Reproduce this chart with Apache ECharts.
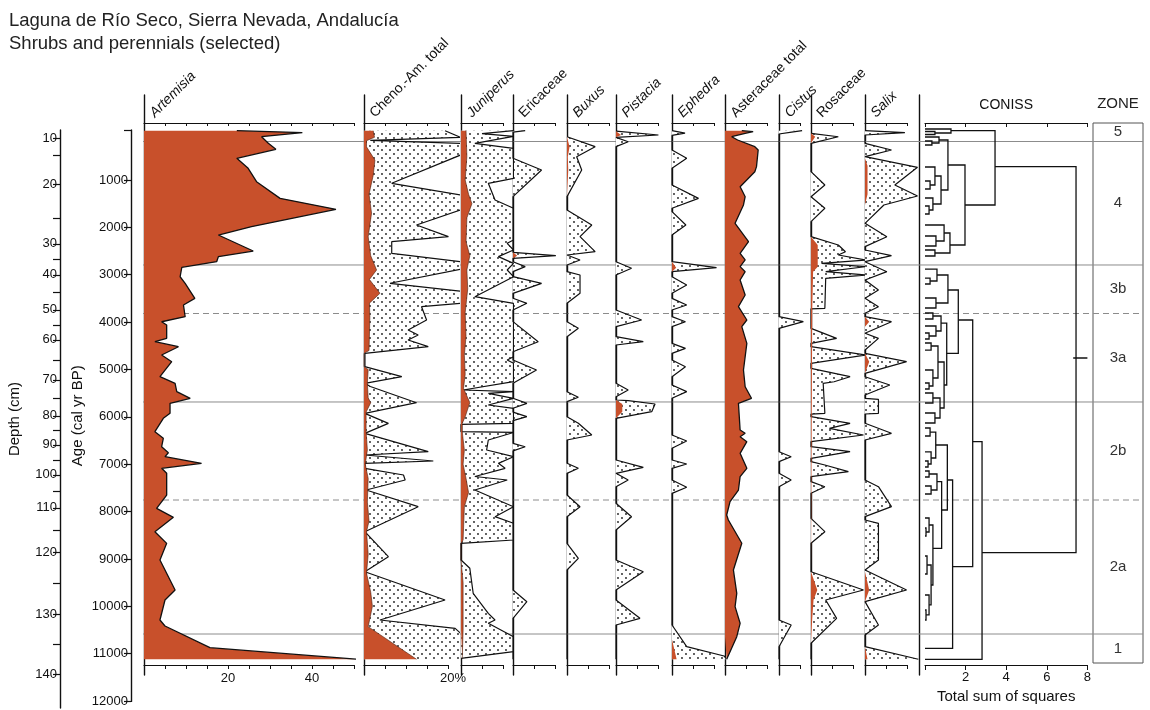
<!DOCTYPE html>
<html>
<head>
<meta charset="utf-8">
<title>Laguna de Río Seco – shrubs and perennials</title>
<script src="https://cdn.jsdelivr.net/npm/echarts@6/dist/echarts.min.js"></script>
<style>
  html, body { margin: 0; background: #fff; }
  #chart { width: 1150px; height: 710px; }
</style>
</head>
<body>
<div id="chart"></div>
<script>
// all profiles are [age cal yr BP, percent]
const artemisia = [[-40, 22.1], [0, 37.7], [87, 28.0], [226, 29.6], [353, 31.4], [543, 22.1], [754, 24.8], [1036, 26.8], [1388, 32.4], [1620, 45.7], [1987, 25.6], [2162, 17.7], [2500, 26.0], [2620, 17.7], [2725, 17.3], [2845, 9.0], [3043, 8.6], [3183, 9.8], [3499, 12.1], [3640, 9.4], [3887, 9.8], [3993, 4.2], [4062, 5.4], [4343, 5.4], [4414, 2.6], [4520, 8.2], [4695, 4.2], [4836, 6.6], [5153, 3.8], [5293, 7.4], [5469, 7.8], [5609, 11.0], [5715, 6.2], [5926, 6.2], [6031, 4.6], [6314, 2.6], [6454, 4.6], [6630, 4.2], [6758, 5.8], [6842, 5.0], [6982, 13.7], [7087, 4.2], [7193, 5.4], [7651, 5.4], [7932, 3.0], [8122, 7.0], [8426, 2.6], [8671, 5.4], [9023, 3.8], [9656, 7.4], [9867, 5.0], [10289, 3.8], [10416, 5.0], [10874, 15.7], [11119, 51]]

const chenoAm = [[-40, 2.2], [100, 2.5], [171, 0.6], [300, 0.6], [580, 2.6], [900, 2.2], [1300, 1.2], [1700, 1.8], [2200, 1.0], [2600, 1.6], [2900, 3.0], [3100, 1.3], [3393, 3.8], [3600, 1.3], [3900, 1.4], [4600, 1.2], [4660, 0], [4942, 0], [5000, 1.0], [5293, 0.8], [5600, 1.0], [5702, 1.6], [5900, 0.5], [6300, 0.5], [6700, 0.8], [7000, 0.3], [7300, 1.0], [7800, 0.8], [8200, 1.2], [8425, 0.6], [8900, 1.0], [9300, 0.6], [9700, 1.6], [10000, 2.0], [10430, 1.0], [11118, 12.5]]
const chenoAmExag = [[-40, 19.3], [100, 23], [165, 1.5], [230, 23], [473, 23], [1070, 6.6], [1317, 23], [1634, 23], [1950, 12.5], [2197, 20.1], [2303, 6.6], [2548, 6.6], [2725, 23], [2884, 23], [3181, 6.2], [3349, 23], [3603, 23], [3675, 13.7], [3956, 14.9], [4167, 10.5], [4273, 12.9], [4378, 10.5], [4519, 15.3], [4660, 0.2], [4942, 0.2], [5153, 9.0], [5293, 0.2], [5360, 1.5], [5702, 12.5], [5927, 0.2], [6138, 5.8], [6349, 0.2], [6736, 15.3], [6806, 0.2], [6933, 16.5], [6981, 0.2], [7087, 0.2], [7228, 9.4], [7334, 9.8], [7545, 0.5], [7897, 12.9], [8425, 0.2], [8953, 5.8], [9270, 0.2], [9867, 19.3], [10289, 3.8], [10465, 21.7], [10571, 23], [11118, 23]]

const juniperus = [[-40, 1.2], [500, 1.4], [1000, 1.0], [1300, 1.8], [1500, 2.6], [1800, 1.4], [2300, 1.2], [2600, 2.1], [2900, 1.4], [3300, 1.6], [3800, 1.0], [4300, 1.2], [4700, 0.8], [5100, 1.0], [5400, 0.6], [5700, 2.1], [6000, 1.0], [6137, 0.3], [6314, 0.3], [6700, 0.8], [7000, 0.5], [7300, 1.2], [7600, 1.8], [7900, 0.8], [8600, 0.5], [8670, 0], [9022, 0], [9500, 0.5], [10500, 0.5], [11098, 0.3]]
const juniperusExag = [[-40, 12.5], [20, 5], [80, 12.5], [226, 3.3], [332, 12.5], [965, 12.5], [1071, 6.5], [1423, 8.1], [1598, 12.5], [2267, 12.5], [2337, 11], [2478, 12.5], [2619, 8.9], [2760, 12.5], [2901, 11], [3042, 12.5], [3464, 3.3], [3604, 12.5], [4731, 12.5], [4801, 11], [4871, 12.5], [5258, 12.5], [5434, 0.5], [5470, 12.5], [5504, 6.5], [5609, 12.5], [5750, 6.5], [5820, 12.5], [6137, 12.5], [6160, 0], [6314, 0], [6330, 12.5], [6489, 6.5], [6700, 6.1], [6842, 12.5], [6982, 8.9], [7087, 10.5], [7260, 3.3], [7334, 11], [7545, 3.3], [7897, 12.5], [8108, 8.1], [8248, 12.5], [8600, 12.5], [8670, 0], [9022, 0], [9198, 2.1], [9725, 2.9], [10148, 6.5], [10289, 8.1], [10359, 6.5], [10642, 12.5], [10958, 12.5], [11098, 0]]

const ericaceae = [[-40, 0], [2527, 0], [2598, 1.0], [2654, 0], [11118, 0]]
const ericaceaeExag = [[-40, 2.9], [-10, 0], [542, 0], [789, 6.8], [1352, 0], [2527, 0], [2598, 10.2], [2654, 0], [2725, 0], [2830, 2.9], [2936, 0], [3042, 0], [3183, 6.8], [3393, 0], [3498, 0], [3604, 3.3], [3745, 0], [3991, 0], [4414, 6.0], [4625, 0], [4801, 0], [5012, 5.6], [5293, 0], [5609, 0], [5715, 3.3], [5820, 0], [5900, 0], [5997, 3.3], [6080, 0], [6560, 0], [6631, 2.9], [6720, 0], [9656, 0], [9903, 3.3], [10254, 0], [11118, 0]]

const buxus = [[87, 0], [297, 0.6], [508, 0.2], [789, 0.3], [1352, 0]]
const buxusExag = [[87, 0], [297, 6.7], [508, 2.3], [789, 3.5], [1352, 0], [1634, 0], [1950, 5.9], [2197, 3.1], [2514, 6.7], [2584, 0], [2689, 3.1], [2795, 0], [2936, 0], [3006, 3.1], [3393, 3.1], [3604, 0], [3991, 0], [4131, 2.7], [4308, 0], [5469, 0], [5588, 2.7], [5680, 0], [5997, 0], [6137, 2.7], [6384, 5.9], [6489, 0], [6981, 0], [7087, 2.7], [7193, 0], [7651, 0], [7897, 3.1], [8108, 0], [8670, 0], [8987, 2.7], [9233, 0], [11118, 0]]

const pistacia = [[-30, 0], [51, 1.2], [100, 0], [5645, 0], [5729, 1.5], [5892, 1.5], [6031, 0]]
const pistaciaExag = [[-30, 0], [51, 10.1], [100, 0], [121, 0], [192, 2.9], [297, 0], [2725, 0], [2865, 3.7], [3006, 0], [3745, 0], [3956, 6.1], [4097, 0], [4308, 0], [4414, 6.5], [4484, 0], [5293, 0], [5434, 2.9], [5575, 0], [5645, 0], [5660, 2.9], [5729, 9.3], [5892, 8.5], [6031, 0], [6911, 0], [7066, 6.5], [7193, 0], [7228, 0], [7334, 2.9], [7475, 0], [7826, 0], [8108, 3.7], [8389, 0], [9022, 0], [9270, 6.5], [9656, 0], [9867, 0], [10254, 5.7], [10395, 0], [11118, 0]]

const ephedra = [[2725, 0], [2852, 1.0], [2936, 0], [10700, 0], [11118, 1.1]]
const ephedraExag = [[-40, 0], [10, 3.1], [60, 0], [367, 0], [543, 3.5], [754, 0], [1106, 0], [1388, 6.3], [1598, 0], [1669, 0], [1950, 3.3], [2162, 0], [2725, 0], [2852, 10.6], [2936, 0], [3042, 0], [3218, 3.5], [3393, 0], [3499, 0], [3640, 3.5], [3745, 0], [3886, 0], [3992, 3.2], [4097, 0], [4449, 0], [4554, 3.2], [4660, 0], [4801, 0], [4942, 3.2], [5153, 0], [5328, 0], [5469, 3.5], [5609, 0], [6384, 0], [6511, 3.5], [6665, 0], [6911, 0], [6996, 3.5], [7087, 0], [7334, 0], [7488, 3.5], [7615, 0], [10395, 0], [10853, 3.5], [11049, 12.4], [11118, 13]]

const asteraceae = [[-40, 4.0], [-19, 6.7], [16, 4.8], [87, 1.6], [156, 3.0], [297, 7.1], [367, 7.9], [719, 7.5], [825, 7.1], [1142, 3.6], [1212, 4.0], [1353, 4.8], [1528, 4.4], [1915, 2.4], [2303, 5.6], [2548, 3.6], [2689, 4.8], [2830, 3.6], [2936, 4.8], [3112, 3.6], [3429, 4.8], [3675, 3.2], [3956, 5.2], [4097, 4.0], [4449, 5.2], [4731, 4.8], [5012, 4.4], [5364, 4.8], [5609, 6.3], [5715, 3.2], [6278, 3.6], [6348, 4.8], [6420, 3.6], [6525, 5.2], [6771, 3.6], [7087, 5.2], [7264, 3.6], [7545, 3.2], [7791, 1.2], [8073, 0.4], [8178, 0.8], [8670, 4.0], [9233, 2.0], [9726, 2.8], [10008, 2.4], [10359, 3.6], [10641, 2.8], [11118, 0.4]]

const cistusExag = [[-40, 5.5], [-10, 3.0], [30, 0], [3886, 0], [3991, 5.8], [4132, 0], [6736, 0], [6842, 2.9], [6947, 0], [7193, 0], [7334, 2.9], [7475, 0], [10289, 0], [10395, 2.9], [10853, 0], [11118, 0]]

const rosaceae = [[16, 0], [87, 1.0], [226, 0], [2197, 0], [2373, 1.6], [2830, 1.6], [2936, 0.5], [3710, 0.3], [3720, 0], [9270, 0], [9656, 1.5], [9867, 0.6], [10254, 0.3], [10781, 0]]
const rosaceaeExag = [[16, 0], [87, 6.5], [226, 0], [825, 0], [1106, 3.3], [1353, 0], [1388, 0], [1598, 3.3], [1880, 0], [2197, 0], [2373, 6.5], [2514, 8.2], [2584, 6.5], [2689, 13], [2760, 2.5], [2830, 13], [2936, 3.5], [3006, 13], [3077, 3.5], [3710, 3.3], [3720, 0], [4132, 0], [4343, 6.1], [4449, 0], [4519, 0], [4695, 13], [4871, 0], [4977, 0], [5153, 9.3], [5260, 5.5], [5293, 2.9], [5926, 3.3], [5945, 0], [5997, 0], [6137, 9.3], [6243, 4.4], [6384, 12.5], [6525, 0], [6631, 0], [6736, 9.3], [6876, 0], [6947, 0], [7017, 3.3], [7158, 8.9], [7264, 0], [7369, 0], [7475, 3.3], [7615, 0], [8143, 0], [8425, 3.3], [8670, 0], [9270, 0], [9656, 12.5], [9867, 3.5], [10254, 6.1], [10781, 0], [11118, 0]]

const salix = [[543, 0], [700, 0.6], [1300, 0.6], [1528, 0], [3886, 0], [3992, 1.0], [4100, 0], [4660, 0], [4836, 1.0], [5082, 0], [9270, 0], [9656, 1.0], [9902, 0], [10853, 0], [11118, 0.6]]
const salixExag = [[-40, 0], [2, 9.5], [51, 0], [226, 0], [367, 6.3], [508, 0], [543, 0], [733, 12.5], [1106, 7.1], [1339, 12.5], [1528, 4.5], [1915, 0], [1950, 0], [2197, 5.2], [2408, 0], [2478, 0], [2598, 6.3], [2725, 0], [2760, 0], [2936, 5.2], [3112, 0], [3147, 0], [3323, 3.2], [3499, 0], [3534, 0], [3675, 3.2], [3815, 0], [3886, 0], [3992, 6.3], [4237, 0], [4343, 3.2], [4590, 0], [4660, 0], [4836, 9.9], [5082, 0], [5153, 0], [5328, 5.9], [5540, 0], [5609, 0], [5630, 3.2], [5926, 3.2], [5940, 0], [6137, 0], [6348, 6.3], [6489, 0], [7334, 0], [7475, 3.2], [7897, 6.3], [8108, 0], [8178, 0], [8248, 3.2], [9022, 3.2], [9233, 0], [9270, 0], [9656, 9.9], [9902, 0], [9937, 0], [10395, 3.2], [10606, 0], [10853, 0], [11118, 12.7]]

// CONISS merges: [age upper child, height upper child, age lower child, height lower child, merge height]
const coniss = [
  [720, 3.45, 8868, 2.81, 7.44], [-40, 1.28, 1528, 1.97, 3.45], [-76, 0, 8, 0.49, 1.28], [-23, 0, 40, 0, 0.49],
  [684, 1.13, 2373, 1.23, 1.97], [156, 0.69, 1212, 0.79, 1.13], [93, 0, 220, 0.34, 0.69], [177, 0, 262, 0, 0.34],
  [916, 0.49, 1507, 0.39, 0.79], [726, 0, 1106, 0.25, 0.49], [1022, 0, 1191, 0, 0.25], [1381, 0, 1634, 0.2, 0.39],
  [1549, 0, 1718, 0, 0.2], [2120, 0.94, 2542, 0.49, 1.23], [1951, 0, 2288, 0.54, 0.94], [2183, 0, 2394, 0, 0.54],
  [2478, 0, 2605, 0, 0.49], [6525, 2.35, 11119, 0, 2.81], [3956, 1.64, 9164, 1.36, 2.35], [3323, 1.13, 4659, 1.07, 1.64],
  [3006, 0.59, 3597, 0.54, 1.13], [2880, 0, 3133, 0.25, 0.59], [3070, 0, 3196, 0, 0.25], [3492, 0, 3703, 0, 0.54],
  [4020, 0.79, 5328, 0.94, 1.07], [3872, 0.39, 4188, 0.54, 0.79], [3808, 0, 3935, 0, 0.39], [4083, 0, 4294, 0.2, 0.54],
  [4231, 0, 4357, 0, 0.2], [4843, 0.64, 5814, 0.74, 0.94], [4505, 0.3, 5180, 0.39, 0.64], [4442, 0, 4590, 0, 0.3],
  [5012, 0, 5349, 0.2, 0.39], [5286, 0, 5413, 0, 0.2], [5603, 0.39, 6025, 0.49, 0.74], [5497, 0, 5708, 0, 0.39],
  [5919, 0, 6130, 0, 0.49], [7334, 1.10, 10887, 0, 1.36], [6595, 0.53, 7967, 0.82, 1.10], [6321, 0.25, 6869, 0.3, 0.53],
  [6236, 0, 6405, 0, 0.25], [6742, 0, 6996, 0.15, 0.3], [6933, 0, 7059, 0, 0.15], [7369, 0.59, 8776, 0.39, 0.82],
  [7207, 0.2, 7545, 0.3, 0.59], [7144, 0, 7270, 0, 0.2], [7460, 0, 7629, 0, 0.3], [8284, 0.2, 9550, 0.3, 0.39],
  [8136, 0, 8431, 0.05, 0.2], [8347, 0, 8516, 0, 0.05], [9128, 0.1, 9972, 0.2, 0.3], [8938, 0, 9318, 0, 0.1],
  [9761, 0, 10183, 0.05, 0.2], [10078, 0, 10289, 0, 0.05]
]
const conissMark = [[7.3, 4758], [8.0, 4758]]

const zoneNames = ['5', '4', '3b', '3a', '2b', '2a', '1']
const zoneBounds = [188, 2795, 3819, 5687, 7756, 10585]
const zoneDashed = [false, false, true, false, true, false]

const ageTicks = [1000, 2000, 3000, 4000, 5000, 6000, 7000, 8000, 9000, 10000, 11000, 12000]
const depthLabels = [10, 20, 30, 40, 50, 60, 70, 80, 90, 100, 110, 120, 130, 140]
const depthAges = [114, 1084, 2350, 3004, 3743, 4376, 5219, 5979, 6591, 7224, 7920, 8869, 10177, 11443]
const depthMinorAges = [483, 1818, 2677, 3373, 4060, 4798, 5599, 6285, 6908, 7572, 8395, 9523, 10810]

// vertical scale shared by every strip
const AGE0_Y = 132.6
const PX_PER_YR = 0.04737
const ageAt = y => (y - AGE0_Y) / PX_PER_YR
const SCALE = 4.2 // px per percent
const STEM_TOP = 95
const STEM_BOTTOM = 675
const AX_TOP = 123
const AX_BOTTOM = 665
const BROWN = '#c8502b'
const INK = '#111'
const FONT = 'Liberation Sans, Arial, sans-serif'

const panels = [
  { name: 'Artemisia', italic: true, left: 144, width: 210, values: artemisia, outline: true, labels: v => (v === 20 || v === 40 ? v : '') },
  { name: 'Cheno.-Am. total', left: 364, width: 94, values: chenoAm, exag: chenoAmExag, thin: true, labels: v => (v === 20 ? '20%' : ''), labelPad: [0, 0, 0, 10] },
  { name: 'Juniperus', italic: true, left: 461, width: 51, values: juniperus, exag: juniperusExag, thin: true },
  { name: 'Ericaceae', left: 513, width: 52, values: ericaceae, exag: ericaceaeExag },
  { name: 'Buxus', italic: true, left: 567, width: 47, values: buxus, exag: buxusExag },
  { name: 'Pistacia', italic: true, left: 616, width: 54, values: pistacia, exag: pistaciaExag },
  { name: 'Ephedra', italic: true, left: 672, width: 52, values: ephedra, exag: ephedraExag },
  { name: 'Asteraceae total', left: 725, width: 52, values: asteraceae, outline: true },
  { name: 'Cistus', italic: true, left: 779, width: 30, exag: cistusExag },
  { name: 'Rosaceae', left: 811, width: 52, values: rosaceae, exag: rosaceaeExag },
  { name: 'Salix', italic: true, left: 865, width: 54, values: salix, exag: salixExag, rightLine: true }
]

const dots = document.createElement('canvas')
dots.width = 8
dots.height = 8
const dc = dots.getContext('2d')
dc.fillStyle = '#fff'
dc.fillRect(0, 0, 8, 8)
dc.fillStyle = '#1a1a1a'
dc.beginPath(); dc.arc(2, 2, 0.9, 0, Math.PI * 2); dc.fill()
dc.beginPath(); dc.arc(6, 6, 0.9, 0, Math.PI * 2); dc.fill()

const grid = []
const xAxis = []
const yAxis = []
const series = []
const stemLine = { show: true, onZero: false, lineStyle: { color: INK, width: 1.4 } }
const hidden = { show: false }
const frameLine = () => ({ show: true, onZero: false, lineStyle: { color: INK, width: 1.2 } })

panels.forEach(p => {
  // long vertical stem of the strip
  const s = grid.length
  grid.push({ left: p.left, top: STEM_TOP, width: p.width, height: STEM_BOTTOM - STEM_TOP })
  xAxis.push({ gridIndex: s, type: 'value', show: false })
  yAxis.push({ gridIndex: s, type: 'value', min: 0, max: 1, axisLine: stemLine, axisTick: hidden, axisLabel: hidden, splitLine: hidden })
  if (p.rightLine) {
    yAxis.push({ gridIndex: s, type: 'value', position: 'right', min: 0, max: 1, axisLine: stemLine, axisTick: hidden, axisLabel: hidden, splitLine: hidden })
  }

  // percentage rulers, top and bottom, ending on the last whole 5 %
  const max = p.width / SCALE
  const rulerMax = Math.floor(max / 5 + 1e-6) * 5
  const r = grid.length
  grid.push({ left: p.left, top: AX_TOP, width: rulerMax * SCALE, height: AX_BOTTOM - AX_TOP })
  xAxis.push({
    gridIndex: r, type: 'value', position: 'top', min: 0, max: rulerMax, interval: 5,
    axisLine: frameLine(),
    axisTick: { show: true, inside: true, length: 3, lineStyle: { color: INK } },
    axisLabel: hidden, splitLine: hidden,
    name: p.name, nameLocation: 'start', nameGap: -16, nameRotate: 45,
    nameTextStyle: { align: 'left', verticalAlign: 'bottom', fontStyle: p.italic ? 'italic' : 'normal', fontSize: 14, color: INK, fontFamily: FONT, padding: [0, 0, 4, 0] }
  })
  xAxis.push({
    gridIndex: r, type: 'value', position: 'bottom', min: 0, max: rulerMax, interval: 5,
    axisLine: frameLine(),
    axisTick: { show: true, length: 4, lineStyle: { color: INK } },
    axisLabel: p.labels ? { formatter: p.labels, fontSize: 13, color: INK, fontFamily: FONT, margin: 7, padding: p.labelPad || 0 } : hidden,
    splitLine: hidden
  })
  yAxis.push({ gridIndex: r, type: 'value', min: 0, max: 1, show: false })

  // data strip
  const g = grid.length
  grid.push({ left: p.left, top: AX_TOP, width: p.width, height: AX_BOTTOM - AX_TOP })
  const xi = xAxis.length
  xAxis.push({ gridIndex: g, type: 'value', min: 0, max, show: false })
  const yi = yAxis.length
  yAxis.push({
    gridIndex: g, type: 'time', inverse: true, min: ageAt(AX_TOP), max: ageAt(AX_BOTTOM),
    axisLine: hidden, axisTick: hidden, axisLabel: hidden, splitLine: hidden
  })
  if (p.exag) {
    series.push({
      type: 'line', xAxisIndex: xi, yAxisIndex: yi, data: p.exag.map(d => [d[1], d[0]]),
      symbol: 'none', silent: true, z: 3,
      lineStyle: { color: INK, width: 1.2 },
      areaStyle: { color: { image: dots, repeat: 'repeat' }, opacity: 1 }
    })
  }
  if (p.values) {
    series.push({
      type: 'line', xAxisIndex: xi, yAxisIndex: yi, data: p.values.map(d => [d[1], d[0]]),
      symbol: 'none', silent: true, z: 4,
      lineStyle: p.outline ? { color: INK, width: 1.3 } : { color: '#4a2010', width: p.thin ? 0.6 : 0 },
      areaStyle: { color: BROWN, opacity: 1 }
    })
  }
})

// zone boundary lines across the whole diagram
{
  const g = grid.length
  grid.push({ left: 143, top: AX_TOP, width: 1000, height: AX_BOTTOM - AX_TOP })
  const xi = xAxis.length
  xAxis.push({ gridIndex: g, type: 'value', min: 0, max: 1, show: false })
  const yi = yAxis.length
  yAxis.push({ gridIndex: g, type: 'value', inverse: true, min: ageAt(AX_TOP), max: ageAt(AX_BOTTOM), show: false })
  zoneBounds.forEach((a, k) => {
    series.push({
      type: 'line', xAxisIndex: xi, yAxisIndex: yi, data: [[0, a], [1, a]], symbol: 'none', silent: true, z: 1,
      lineStyle: { color: '#8c8c8c', width: 1, type: zoneDashed[k] ? [6, 4] : 'solid' }
    })
  })
}

// CONISS
{
  const g = grid.length
  grid.push({ left: 925, top: AX_TOP, width: 8 * 20.3, height: AX_BOTTOM - AX_TOP })
  const xi = xAxis.length
  xAxis.push({
    gridIndex: g, type: 'value', position: 'bottom', min: 0, max: 8, interval: 2,
    axisLine: frameLine(),
    axisTick: { show: true, length: 5, lineStyle: { color: INK } },
    axisLabel: { formatter: v => (v === 0 ? '' : String(v)), fontSize: 13, color: INK, fontFamily: FONT, margin: 6 },
    splitLine: hidden,
    name: 'Total sum of squares', nameLocation: 'middle', nameGap: 24,
    nameTextStyle: { fontSize: 15, color: INK, fontFamily: FONT }
  })
  xAxis.push({
    gridIndex: g, type: 'value', position: 'top', min: 0, max: 8, interval: 2,
    axisLine: frameLine(),
    axisTick: { show: true, inside: true, length: 4, lineStyle: { color: INK } },
    axisLabel: hidden, splitLine: hidden,
    name: 'CONISS', nameLocation: 'middle', nameGap: 11,
    nameTextStyle: { fontSize: 14, color: INK, fontFamily: FONT }
  })
  const yi = yAxis.length
  yAxis.push({ gridIndex: g, type: 'value', inverse: true, min: ageAt(AX_TOP), max: ageAt(AX_BOTTOM), show: false })
  series.push({
    type: 'lines', coordinateSystem: 'cartesian2d', xAxisIndex: xi, yAxisIndex: yi, polyline: true, silent: true, z: 3,
    lineStyle: { color: INK, width: 1.3, opacity: 1 },
    data: coniss.map(b => ({ coords: [[b[1], b[0]], [b[4], b[0]], [b[4], b[2]], [b[3], b[2]]] }))
      .concat([{ coords: conissMark.map(d => [d[0], d[1]]) }])
  })
}

// zone column
{
  const g = grid.length
  grid.push({ left: 1093, top: AX_TOP, width: 50, height: 663 - AX_TOP, show: true, borderColor: '#555', borderWidth: 1 })
  const xi = xAxis.length
  xAxis.push({
    gridIndex: g, type: 'value', position: 'top', min: 0, max: 1,
    axisLine: hidden, axisTick: hidden, axisLabel: hidden, splitLine: hidden,
    name: 'ZONE', nameLocation: 'middle', nameGap: 12, nameTextStyle: { fontSize: 15, color: '#222', fontFamily: FONT }
  })
  const yi = yAxis.length
  const edges = [ageAt(AX_TOP)].concat(zoneBounds, [ageAt(663)])
  yAxis.push({ gridIndex: g, type: 'value', inverse: true, min: ageAt(AX_TOP), max: ageAt(663), show: false })
  series.push({
    type: 'scatter', xAxisIndex: xi, yAxisIndex: yi, symbolSize: 1, itemStyle: { color: 'rgba(0,0,0,0)' }, silent: true,
    label: { show: true, position: 'inside', formatter: '{b}', fontSize: 15, color: '#333', fontFamily: FONT, opacity: 1 },
    data: zoneNames.map((n, k) => ({ name: n, value: [0.5, (edges[k] + edges[k + 1]) / 2] }))
  })
}

// age axis
{
  const g = grid.length
  grid.push({ left: 131, top: 130, width: 1, height: 701.4 - 130 })
  xAxis.push({ gridIndex: g, type: 'value', show: false })
  yAxis.push({
    gridIndex: g, type: 'value', inverse: true, min: ageAt(130), max: ageAt(701.4),
    axisLine: { show: true, onZero: false, lineStyle: { color: INK, width: 1.4 } },
    axisTick: { show: true, length: 7, customValues: [ageAt(130)].concat(ageTicks), lineStyle: { color: INK, width: 1.2 } },
    axisLabel: { customValues: ageTicks, formatter: v => String(v), fontSize: 13, color: INK, fontFamily: FONT, margin: 3 },
    splitLine: hidden,
    name: 'Age (cal yr BP)', nameLocation: 'middle', nameGap: 46,
    nameTextStyle: { fontSize: 15, color: INK, fontFamily: FONT }
  })
}

// depth axis
{
  const g = grid.length
  grid.push({ left: 60, top: 130, width: 1, height: 708 - 130 })
  xAxis.push({ gridIndex: g, type: 'value', show: false })
  yAxis.push({
    gridIndex: g, type: 'value', inverse: true, min: ageAt(130), max: ageAt(708),
    axisLine: { show: true, onZero: false, lineStyle: { color: INK, width: 1.4 } },
    axisTick: { show: true, length: 7, customValues: depthAges.concat(depthMinorAges), lineStyle: { color: INK, width: 1.2 } },
    axisLabel: { customValues: depthAges, formatter: v => String(depthLabels[depthAges.indexOf(v)]), fontSize: 13, color: INK, fontFamily: FONT, margin: 3 },
    splitLine: hidden,
    name: 'Depth (cm)', nameLocation: 'middle', nameGap: 38,
    nameTextStyle: { fontSize: 15, color: INK, fontFamily: FONT }
  })
}

const chart = echarts.init(document.getElementById('chart'), null, { renderer: 'canvas' })
chart.setOption({
  animation: false,
  backgroundColor: '#fff',
  title: {
    text: 'Laguna de Río Seco, Sierra Nevada, Andalucía\nShrubs and perennials (selected)',
    left: 4, top: 4,
    textStyle: { fontSize: 18.5, fontWeight: 'normal', color: '#222', lineHeight: 23, fontFamily: FONT }
  },
  grid, xAxis, yAxis, series
})
</script>
</body>
</html>
